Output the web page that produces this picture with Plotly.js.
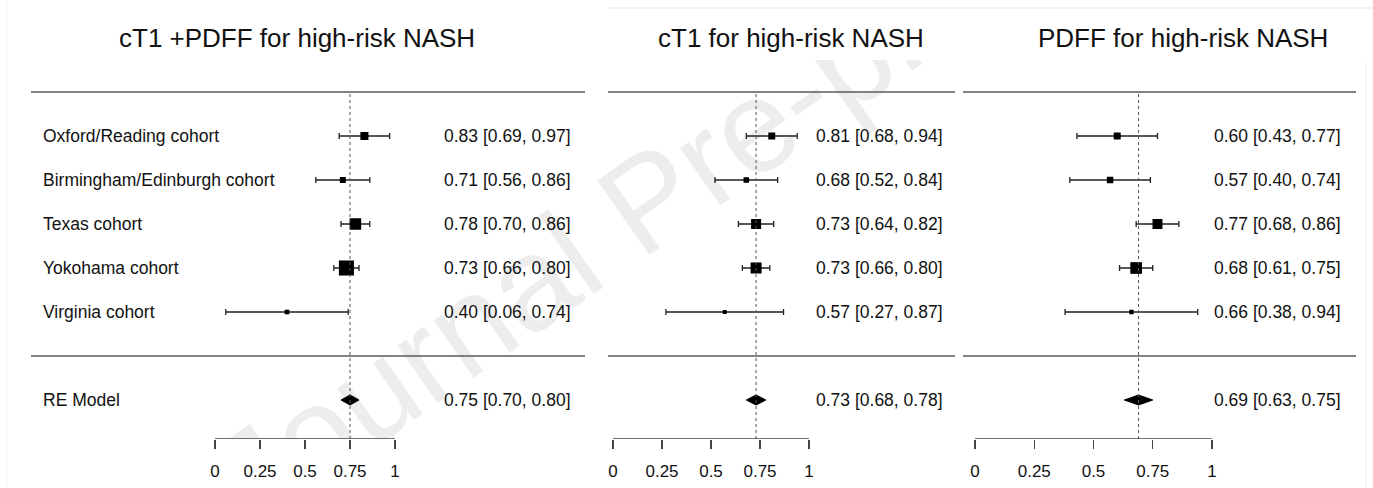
<!DOCTYPE html>
<html><head><meta charset="utf-8">
<script src="https://cdn.plot.ly/plotly-3.0.1.min.js"></script>
<style>html,body{margin:0;padding:0;background:#fff}</style>
</head><body><div id="chart" style="width:1373px;height:488px"></div>
<script>
// ---------------- data ----------------
const cohorts = ['Oxford/Reading cohort', 'Birmingham/Edinburgh cohort', 'Texas cohort', 'Yokohama cohort', 'Virginia cohort'];
const reLabel = 'RE Model';
const titles = ['cT1 +PDFF for high-risk NASH', 'cT1 for high-risk NASH', 'PDFF for high-risk NASH'];

const comboEst = [0.83, 0.71, 0.78, 0.73, 0.40];
const comboLo  = [0.69, 0.56, 0.70, 0.66, 0.06];
const comboHi  = [0.97, 0.86, 0.86, 0.80, 0.74];
const comboWeight = [13.4, 7.5, 27.6, 47.1, 4.4];
const comboRE = [0.75, 0.70, 0.80];

const ct1Est = [0.81, 0.68, 0.73, 0.73, 0.57];
const ct1Lo  = [0.68, 0.52, 0.64, 0.66, 0.27];
const ct1Hi  = [0.94, 0.84, 0.82, 0.80, 0.87];
const ct1Weight = [15.5, 9.6, 31.6, 38.3, 5.1];
const ct1RE = [0.73, 0.68, 0.78];

const pdffEst = [0.60, 0.57, 0.77, 0.68, 0.66];
const pdffLo  = [0.43, 0.40, 0.68, 0.61, 0.38];
const pdffHi  = [0.77, 0.74, 0.86, 0.75, 0.94];
const pdffWeight = [14.1, 12.1, 28.7, 39.4, 5.7];
const pdffRE = [0.69, 0.63, 0.75];

const tickVals = [0, 0.25, 0.5, 0.75, 1];
const tickText = ['0', '0.25', '0.5', '0.75', '1'];
const watermark = 'Journal Pre-proof';

// ---------------- layout constants ----------------
const W = 1373, H = 488;
const FONT = 'Liberation Sans, Arial, Helvetica, sans-serif';
const TXT = '#111111';
const LINE = '#5a5a5a';
const rows = [5, 4, 3, 2, 1];
const reRow = -1;
const pxPerRow = 44, row0Px = 356;           // pixel of row 0
const topPx = 60, botPx = 439;
const yTop = (row0Px - topPx) / pxPerRow;
const yBot = (row0Px - botPx) / pxPerRow;
const pyToRow = p => (row0Px - p) / pxPerRow;
const pyToPaper = p => (botPx - p) / (botPx - topPx);

const panels = [
  {title: titles[0], est: comboEst, lo: comboLo, hi: comboHi, w: comboWeight, re: comboRE,
   p0: 0, p1: 598, zero: 215, scale: 180, line: [31, 585], textRight: 573, titleX: 297, k: 2.19},
  {title: titles[1], est: ct1Est, lo: ct1Lo, hi: ct1Hi, w: ct1Weight, re: ct1RE,
   p0: 600, p1: 958, zero: 613, scale: 196, line: [608, 955], textRight: 945, titleX: 791, k: 1.78},
  {title: titles[2], est: pdffEst, lo: pdffLo, hi: pdffHi, w: pdffWeight, re: pdffRE,
   p0: 960, p1: 1373, zero: 975, scale: 237, line: [963, 1356], textRight: 1343, titleX: 1183, k: 1.86}
];

const fmt = v => v.toFixed(2);
const traces = [], shapes = [], annotations = [];
const layout = {
  width: W, height: H,
  margin: {l: 0, r: 0, t: topPx, b: H - botPx, pad: 0},
  paper_bgcolor: '#ffffff', plot_bgcolor: 'rgba(0,0,0,0)',
  showlegend: false,
  font: {family: FONT, color: TXT, size: 17.5},
  yaxis: {range: [yBot, yTop], visible: false, fixedrange: true, anchor: 'x'}
};

// background artefacts of the scanned figure
shapes.push({type: 'line', xref: 'paper', yref: 'paper', x0: 608 / W, x1: 1, y0: pyToPaper(8), y1: pyToPaper(8),
  line: {color: '#e6e6e6', width: 1}, layer: 'below'});
shapes.push({type: 'line', xref: 'paper', yref: 'paper', x0: 1366 / W, x1: 1366 / W, y0: pyToPaper(H), y1: pyToPaper(62),
  line: {color: '#ececec', width: 1}, layer: 'below'});
shapes.push({type: 'line', xref: 'paper', yref: 'paper', x0: 7 / W, x1: 7 / W, y0: pyToPaper(H), y1: pyToPaper(0),
  line: {color: '#f0f0f0', width: 1}, layer: 'below'});

// watermark
shapes.push({type: 'rect', xref: 'paper', yref: 'y', x0: 340 / W, x1: 940 / W, y0: pyToRow(300), y1: pyToRow(80),
  line: {width: 0}, fillcolor: 'rgba(0,0,0,0)', layer: 'below',
  label: {text: watermark, textangle: -35, textposition: 'middle center',
          font: {family: FONT, size: 132, color: '#ededed'}}});

panels.forEach((p, i) => {
  const xa = i === 0 ? 'x' : 'x' + (i + 1);
  const xaKey = i === 0 ? 'xaxis' : 'xaxis' + (i + 1);
  layout[xaKey] = {
    domain: [p.p0 / W, p.p1 / W],
    range: [(p.p0 - p.zero) / p.scale, (p.p1 - p.zero) / p.scale],
    anchor: 'y', fixedrange: true,
    showgrid: false, zeroline: false, showline: false,
    tickmode: 'array', tickvals: tickVals, ticktext: tickText,
    ticks: 'outside', ticklen: 9, tickwidth: 1.3, tickcolor: '#444',
    ticklabelstandoff: 8,
    tickfont: {family: FONT, size: 17, color: TXT}
  };

  // study estimates with CIs
  traces.push({
    type: 'scatter', mode: 'markers', xaxis: xa, yaxis: 'y',
    x: p.est, y: rows, cliponaxis: false,
    marker: {symbol: 'square', color: '#000', opacity: 1, size: p.w.map(v => Math.sqrt(v) * p.k), line: {width: 0}},
    error_x: {type: 'data', symmetric: false,
      array: p.hi.map((h, j) => h - p.est[j]),
      arrayminus: p.lo.map((l, j) => p.est[j] - l),
      width: 3, thickness: 1.3, color: '#222'},
    hoverinfo: 'skip'
  });

  // RE diamond
  const hh = 5 / pxPerRow;
  traces.push({
    type: 'scatter', mode: 'lines', xaxis: xa, yaxis: 'y', fill: 'toself',
    x: [p.re[1], p.re[0], p.re[2], p.re[0], p.re[1]],
    y: [reRow, reRow + hh, reRow, reRow - hh, reRow],
    line: {color: '#000', width: 1}, fillcolor: '#000', hoverinfo: 'skip'
  });

  // horizontal rules
  [6, 0].forEach(r => shapes.push({type: 'line', xref: 'paper', yref: 'y',
    x0: p.line[0] / W, x1: p.line[1] / W, y0: r, y1: r,
    line: {color: LINE, width: 1.4}}));

  // dotted reference line at pooled estimate
  shapes.push({type: 'line', xref: xa, yref: 'y', x0: p.re[0], x1: p.re[0], y0: yBot, y1: 6,
    line: {color: '#555', width: 1, dash: 'dot'}});

  // axis line 0..1
  shapes.push({type: 'line', xref: xa, yref: 'y', x0: tickVals[0], x1: tickVals[tickVals.length - 1], y0: yBot, y1: yBot,
    line: {color: '#444', width: 1.3}});

  // title
  annotations.push({xref: 'paper', yref: 'paper', x: p.titleX / W, y: pyToPaper(38), text: p.title,
    showarrow: false, xanchor: 'center', yanchor: 'middle', font: {family: FONT, size: 26, color: TXT}});

  // estimate texts
  rows.forEach((r, j) => annotations.push({xref: 'paper', yref: 'y', x: p.textRight / W, y: r,
    text: `${fmt(p.est[j])} [${fmt(p.lo[j])}, ${fmt(p.hi[j])}]`, showarrow: false,
    xanchor: 'right', yanchor: 'middle', font: {family: FONT, size: 17.5, color: TXT}}));
  annotations.push({xref: 'paper', yref: 'y', x: p.textRight / W, y: reRow,
    text: `${fmt(p.re[0])} [${fmt(p.re[1])}, ${fmt(p.re[2])}]`, showarrow: false,
    xanchor: 'right', yanchor: 'middle', font: {family: FONT, size: 17.5, color: TXT}});
});

// study labels (first panel)
cohorts.concat([reLabel]).forEach((lab, j) => annotations.push({xref: 'paper', yref: 'y', x: 41 / W,
  y: j < rows.length ? rows[j] : reRow, text: lab, showarrow: false,
  xanchor: 'left', yanchor: 'middle', font: {family: FONT, size: 17.5, color: TXT}}));

layout.shapes = shapes;
layout.annotations = annotations;

Plotly.newPlot('chart', traces, layout, {staticPlot: true, displayModeBar: false});
</script>
</body></html>
